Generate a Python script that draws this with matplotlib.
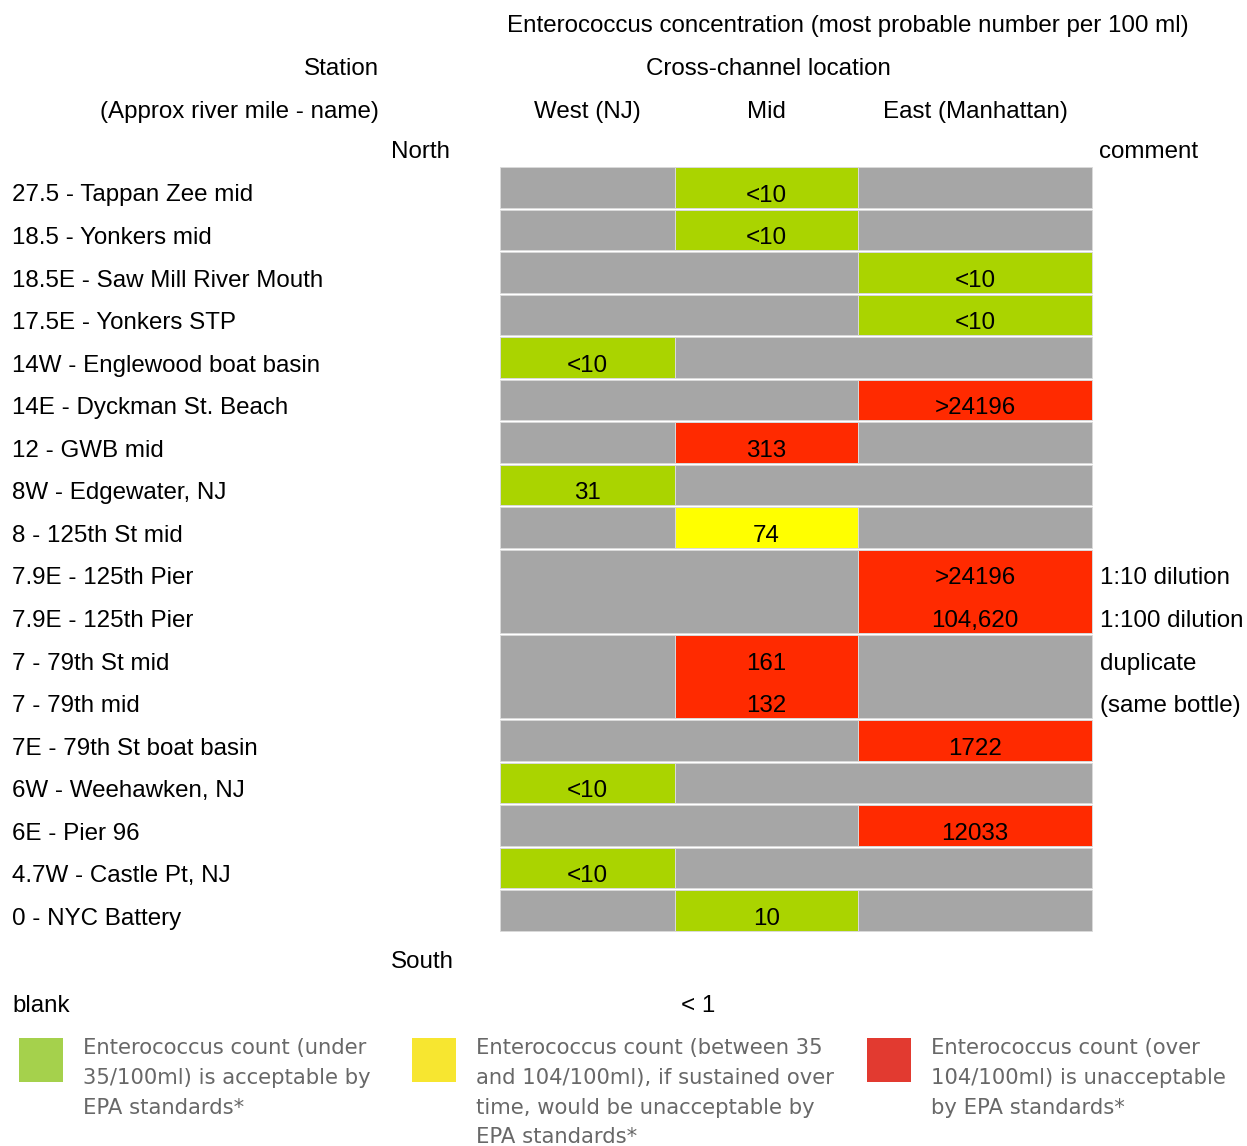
import matplotlib
matplotlib.use('Agg')
import matplotlib.pyplot as plt
from matplotlib.patches import Rectangle

# 데이터 ------------------------------------------------------------
station_labels = [
    '27.5 - Tappan Zee mid', '18.5 - Yonkers mid', '18.5E - Saw Mill River Mouth',
    '17.5E - Yonkers STP', '14W - Englewood boat basin', '14E - Dyckman St. Beach',
    '12 - GWB mid', '8W - Edgewater, NJ', '8 - 125th St mid',
    '7.9E - 125th Pier', '7.9E - 125th Pier', '7 - 79th St mid', '7 - 79th mid',
    '7E - 79th St boat basin', '6W - Weehawken, NJ', '6E - Pier 96',
    '4.7W - Castle Pt, NJ', '0 - NYC Battery',
]
# 그룹별 행 수 (두 줄짜리 셀 병합)
group_sizes = [1, 1, 1, 1, 1, 1, 1, 1, 1, 2, 2, 1, 1, 1, 1, 1]

west_vals = [None, None, None, None, ['<10'], None, None, ['31'], None,
             None, None, None, ['<10'], None, ['<10'], None]
mid_vals = [['<10'], ['<10'], None, None, None, None, ['313'], None, ['74'],
            None, ['161', '132'], None, None, None, None, ['10']]
east_vals = [None, None, ['<10'], ['<10'], None, ['>24196'], None, None, None,
             ['>24196', '104,620'], None, ['1722'], None, ['12033'], None, None]

comments = ['', '', '', '', '', '', '', '', '',
            '1:10 dilution', '1:100 dilution', 'duplicate', '(same bottle)',
            '', '', '', '', '']

col_names = ['West (NJ)', 'Mid', 'East (Manhattan)']
legend_texts = [
    'Enterococcus count (under\n35/100ml) is acceptable by\nEPA standards*',
    'Enterococcus count (between 35\nand 104/100ml), if sustained over\ntime, would be unacceptable by\nEPA standards*',
    'Enterococcus count (over\n104/100ml) is unacceptable\nby EPA standards*',
]
legend_colors = ['#a5d14c', '#f7e630', '#e23a30']

# 색상 ------------------------------------------------------------
GRAY = '#a6a6a6'
GREEN = '#aad400'
YELLOW = '#ffff00'
RED = '#ff2a00'


def value_color(vals):
    s = vals[0].replace('<', '').replace('>', '').replace(',', '')
    v = float(s)
    if vals[0].startswith('<') or v < 35:
        return GREEN
    if v <= 104:
        return YELLOW
    return RED


plt.rcParams['font.family'] = ['Liberation Sans', 'DejaVu Sans']
FS = 17.4

fig = plt.figure(figsize=(12.47, 11.46), dpi=100)
ax = fig.add_axes([0, 0, 1, 1])
ax.set_xlim(0, 1247)
ax.set_ylim(1146, 0)
ax.axis('off')

# 레이아웃
col_edges = [500, 675, 858, 1092]
top0 = 166
row_h = 42.55
base_off = 35.5

# 헤더
ax.text(848, 32, 'Enterococcus concentration (most probable number per 100 ml)',
        ha='center', va='baseline', fontsize=FS)
ax.text(379, 75, 'Station', ha='right', va='baseline', fontsize=FS)
ax.text(768, 75, 'Cross-channel location', ha='center', va='baseline', fontsize=FS)
ax.text(379, 118, '(Approx river mile - name)', ha='right', va='baseline', fontsize=FS)
for i, name in enumerate(col_names):
    ax.text((col_edges[i] + col_edges[i + 1]) / 2, 118, name,
            ha='center', va='baseline', fontsize=FS)
ax.text(391, 158, 'North', ha='left', va='baseline', fontsize=FS)
ax.text(1099, 158, 'comment', ha='left', va='baseline', fontsize=FS)

# 셀 그리기
columns = [west_vals, mid_vals, east_vals]
sub = 0
for g, n in enumerate(group_sizes):
    y0 = top0 + sub * row_h + 1
    h = n * row_h - 2
    # 빈칸(회색)은 연속되면 하나로 병합
    c = 0
    while c < 3:
        vals = columns[c][g]
        if vals is None:
            c2 = c
            while c2 < 3 and columns[c2][g] is None:
                c2 += 1
            ax.add_patch(Rectangle((col_edges[c], y0), col_edges[c2] - col_edges[c], h,
                                   facecolor=GRAY, edgecolor='#dadada', lw=0.7))
            c = c2
        else:
            ax.add_patch(Rectangle((col_edges[c], y0), col_edges[c + 1] - col_edges[c], h,
                                   facecolor=value_color(vals), edgecolor='#dadada', lw=0.7))
            for k, v in enumerate(vals):
                ax.text((col_edges[c] + col_edges[c + 1]) / 2,
                        top0 + (sub + k) * row_h + base_off, v,
                        ha='center', va='baseline', fontsize=FS)
            c += 1
    sub += n

for i, lab in enumerate(station_labels):
    ax.text(12, top0 + i * row_h + base_off, lab, ha='left', va='baseline', fontsize=FS)
    if comments[i]:
        ax.text(1100, top0 + i * row_h + base_off, comments[i],
                ha='left', va='baseline', fontsize=FS)

ax.text(391, 968, 'South', ha='left', va='baseline', fontsize=FS)
ax.text(12, 1012, 'blank', ha='left', va='baseline', fontsize=FS)
ax.text(681, 1012, '< 1', ha='left', va='baseline', fontsize=FS)

# 범례
leg_x = [19, 412, 867]
for x, col, txt in zip(leg_x, legend_colors, legend_texts):
    ax.add_patch(Rectangle((x, 1038), 44, 44, facecolor=col, edgecolor='none'))
    ax.text(x + 64, 1038, txt, ha='left', va='top', fontsize=15.2,
            family='DejaVu Sans', color='#686868', linespacing=1.61)

fig.savefig('out.png', dpi=100)
